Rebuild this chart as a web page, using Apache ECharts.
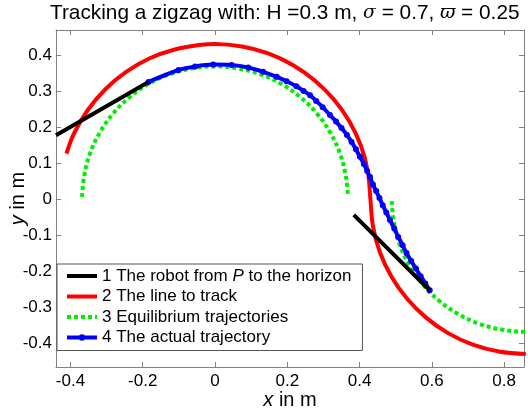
<!DOCTYPE html>
<html>
<head>
<meta charset="utf-8">
<script src="https://cdn.jsdelivr.net/npm/echarts@6/dist/echarts.min.js"></script>
<style>html,body{margin:0;padding:0;background:#fff}#c{width:528px;height:415px}</style>
</head>
<body>
<div id="c"></div>
<script>
// ---- data (metres) ----
const xTicks = [-0.4, -0.2, 0, 0.2, 0.4, 0.6, 0.8];
const yTicks = [-0.4, -0.3, -0.2, -0.1, 0, 0.1, 0.2, 0.3, 0.4];

const legendNames = [
  '1 The robot from P to the horizon',
  '2 The line to track',
  '3 Equilibrium trajectories',
  '4 The actual trajectory'
];

const robotSeg1 = [[-0.44, 0.177], [-0.184, 0.325]];
const robotSeg2 = [[0.384, -0.044], [0.594, -0.253]];

const trackLine = [
  [-0.411, 0.126], [-0.390, 0.182], [-0.352, 0.247], [-0.304, 0.304], [-0.247, 0.352],
  [-0.182, 0.390], [-0.111, 0.415], [-0.037, 0.428], [0, 0.430], [0.075, 0.423],
  [0.147, 0.404], [0.215, 0.372], [0.276, 0.329], [0.329, 0.276], [0.372, 0.215],
  [0.404, 0.147], [0.423, 0.075], [0.430, 0], [0.437, -0.075], [0.456, -0.147],
  [0.488, -0.215], [0.531, -0.276], [0.584, -0.329], [0.645, -0.372], [0.713, -0.404],
  [0.785, -0.423], [0.860, -0.430]
];

const equil1 = [
  [-0.368, 0.006], [-0.362, 0.064], [-0.346, 0.126], [-0.319, 0.184], [-0.282, 0.237],
  [-0.237, 0.282], [-0.184, 0.319], [-0.126, 0.346], [-0.064, 0.362], [0, 0.368],
  [0.064, 0.362], [0.126, 0.346], [0.184, 0.319], [0.237, 0.282], [0.282, 0.237],
  [0.319, 0.184], [0.346, 0.126], [0.362, 0.064], [0.368, 0.006]
];
const equil2 = [
  [0.489, -0.006], [0.495, -0.064], [0.511, -0.126], [0.538, -0.184], [0.575, -0.237],
  [0.620, -0.282], [0.673, -0.319], [0.731, -0.346], [0.793, -0.362], [0.857, -0.368],
  [0.921, -0.362]
];

const actualPath = [
  [-0.184, 0.325], [-0.101, 0.358], [-0.055, 0.368], [-0.005, 0.373], [0.046, 0.372],
  [0.092, 0.365], [0.133, 0.353], [0.171, 0.339], [0.198, 0.327], [0.225, 0.313],
  [0.245, 0.300], [0.263, 0.288], [0.280, 0.272], [0.298, 0.255], [0.318, 0.233],
  [0.335, 0.215], [0.350, 0.197], [0.365, 0.178], [0.378, 0.158], [0.390, 0.138],
  [0.401, 0.117], [0.412, 0.097], [0.421, 0.078], [0.429, 0.061], [0.437, 0.040],
  [0.446, 0.022], [0.455, 0.003], [0.464, -0.017], [0.474, -0.037], [0.484, -0.058],
  [0.496, -0.082], [0.507, -0.105], [0.519, -0.128], [0.530, -0.150], [0.543, -0.172],
  [0.556, -0.193], [0.569, -0.214], [0.582, -0.234], [0.594, -0.253]
];

const xRange = [-0.44, 0.855];
const yRange = [-0.466, 0.469];

// ---- chart ----
const chart = echarts.init(document.getElementById('c'), null, {renderer: 'canvas'});
const font = 'Liberation Sans, Arial, sans-serif';
const axisGray = '#808080';
const hideSym = {opacity: 0};

function boxAxis(base) {
  return Object.assign({
    type: 'value',
    splitLine: {show: false},
    axisLine: {show: true, onZero: false, lineStyle: {color: axisGray, width: 1}},
  }, base);
}

const option = {
  animation: false,
  backgroundColor: '#fff',
  title: {
    text: 'Tracking a zigzag with: H =0.3 m, {s|σ} = 0.7, {s|ϖ} = 0.25',
    left: 45, top: 0, padding: [3, 5, 3, 5],
    textStyle: {
      fontFamily: font, fontSize: 20.8, fontWeight: 'normal', color: '#000',
      rich: {s: {fontFamily: 'DejaVu Serif, serif', fontStyle: 'italic', fontSize: 18.8, color: '#000'}}
    }
  },
  grid: {left: 56, right: 4, top: 30, bottom: 48, containLabel: false, outerBoundsMode: 'none'},
  xAxis: [
    boxAxis({
      position: 'bottom', min: xRange[0], max: xRange[1],
      axisTick: {show: true, inside: true, length: 5, lineStyle: {color: axisGray}, customValues: xTicks},
      axisLabel: {customValues: xTicks, color: '#000', fontFamily: font, fontSize: 17, margin: 6,
        formatter: v => String(+v.toFixed(2))},
      name: '{i|x} in m', nameLocation: 'middle', nameGap: 23, nameMoveOverlap: false,
      nameTextStyle: {fontFamily: font, fontSize: 20, color: '#000', rich: {i: {fontStyle: 'italic', fontFamily: font, fontSize: 20}}}
    }),
    boxAxis({
      position: 'top', min: xRange[0], max: xRange[1],
      axisTick: {show: true, inside: true, length: 5, lineStyle: {color: axisGray}, customValues: xTicks},
      axisLabel: {show: false}
    })
  ],
  yAxis: [
    boxAxis({
      position: 'left', min: yRange[0], max: yRange[1],
      axisTick: {show: true, inside: true, length: 5, lineStyle: {color: axisGray}, customValues: yTicks},
      axisLabel: {customValues: yTicks, color: '#000', fontFamily: font, fontSize: 17, margin: 4,
        formatter: v => String(+v.toFixed(2))},
      name: '{i|y} in m', nameLocation: 'middle', nameGap: 28, nameRotate: 90, nameMoveOverlap: false,
      nameTextStyle: {fontFamily: font, fontSize: 20, color: '#000', rich: {i: {fontStyle: 'italic', fontFamily: font, fontSize: 20}}}
    }),
    boxAxis({
      position: 'right', min: yRange[0], max: yRange[1],
      axisTick: {show: true, inside: true, length: 5, lineStyle: {color: axisGray}, customValues: yTicks},
      axisLabel: {show: false}
    })
  ],
  legend: {
    data: [
      {name: legendNames[0], itemStyle: hideSym},
      {name: legendNames[1], itemStyle: hideSym},
      {name: legendNames[2], itemStyle: hideSym},
      {name: legendNames[3]}
    ],
    orient: 'vertical',
    left: 57, top: 264,
    backgroundColor: '#fff',
    borderColor: '#555', borderWidth: 1,
    padding: [2, 11, 3, 8],
    itemWidth: 30, itemHeight: 8, itemGap: 0.5,
    lineStyle: {width: 4},
    selectedMode: false,
    formatter: n => n.replace(' P ', ' {i|P} '),
    textStyle: {fontFamily: font, fontSize: 17, color: '#000', lineHeight: 20,
      rich: {i: {fontStyle: 'italic', fontFamily: font, fontSize: 17, lineHeight: 20}}}
  },
  series: [
    {name: legendNames[2], type: 'line', data: equil1, symbol: 'none', z: 2, smooth: 0.4,
      lineStyle: {color: '#00ee00', width: 4, type: [4, 3]}, itemStyle: {color: '#00ee00'}},
    {name: legendNames[2], type: 'line', data: equil2, symbol: 'none', z: 2, smooth: 0.4,
      lineStyle: {color: '#00ee00', width: 4, type: [4, 3]}, itemStyle: {color: '#00ee00'}},
    {name: legendNames[1], type: 'line', data: trackLine, symbol: 'none', z: 3, smooth: 0.4,
      lineStyle: {color: '#ff0000', width: 4}, itemStyle: {color: '#ff0000'}},
    {name: legendNames[3], type: 'line', data: actualPath, symbol: 'circle', symbolSize: 6,
      showSymbol: true, showAllSymbol: true, z: 4, smooth: 0.3,
      lineStyle: {color: '#0000ff', width: 4}, itemStyle: {color: '#0000ff'}},
    {name: legendNames[0], type: 'line', data: robotSeg1, symbol: 'none', z: 5,
      lineStyle: {color: '#000', width: 4}, itemStyle: {color: '#000'}},
    {name: legendNames[0], type: 'line', data: robotSeg2, symbol: 'none', z: 5,
      lineStyle: {color: '#000', width: 4}, itemStyle: {color: '#000'}}
  ]
};
chart.setOption(option);
</script>
</body>
</html>
